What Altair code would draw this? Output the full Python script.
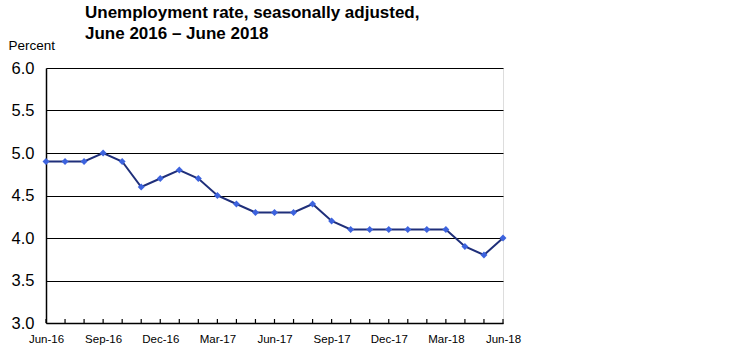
import altair as alt
import pandas as pd

months = ["Jun-16","Jul-16","Aug-16","Sep-16","Oct-16","Nov-16","Dec-16",
          "Jan-17","Feb-17","Mar-17","Apr-17","May-17","Jun-17","Jul-17",
          "Aug-17","Sep-17","Oct-17","Nov-17","Dec-17","Jan-18","Feb-18",
          "Mar-18","Apr-18","May-18","Jun-18"]
rates = [4.9, 4.9, 4.9, 5.0, 4.9, 4.6, 4.7, 4.8, 4.7, 4.5, 4.4, 4.3, 4.3,
         4.3, 4.4, 4.2, 4.1, 4.1, 4.1, 4.1, 4.1, 4.1, 3.9, 3.8, 4.0]
tick_labels = ["Jun-16","Sep-16","Dec-16","Mar-17","Jun-17","Sep-17",
               "Dec-17","Mar-18","Jun-18"]
title_lines = ["Unemployment rate, seasonally adjusted,", "June 2016 \u2013 June 2018"]

df = pd.DataFrame({"idx": list(range(len(months))), "month": months, "rate": rates})
lab_expr = "[" + ",".join('"%s"' % t for t in tick_labels) + "][datum.value/3]"

W, H = 457, 255
x = alt.X("idx:Q", scale=alt.Scale(domain=[0, 24], nice=False, zero=False),
          axis=alt.Axis(values=list(range(0, 25, 3)), labelExpr=lab_expr,
                        title=None, ticks=False, grid=False, domain=True,
                        domainColor="black", domainWidth=1.5,
                        labelFlush=False, labelOverlap=False,
                        labelFont="Liberation Sans", labelFontSize=11.5,
                        labelColor="black", labelPadding=10))
y = alt.Y("rate:Q", scale=alt.Scale(domain=[3.0, 6.0], nice=False, zero=False),
          axis=alt.Axis(values=[3.0,3.5,4.0,4.5,5.0,5.5,6.0], format=".1f",
                        title="Percent", titleAngle=0, titleAlign="left",
                        titleX=-38, titleY=-19, titleFont="Liberation Sans",
                        titleFontSize=13.5, titleFontWeight="normal",
                        titleColor="black", titleBaseline="alphabetic",
                        ticks=False, grid=True, gridColor="black",
                        gridWidth=1.2, gridOpacity=1, domain=True,
                        domainColor="black", domainWidth=1.5,
                        labelFlush=False,
                        labelFont="Liberation Sans", labelFontSize=16.5,
                        labelColor="black", labelPadding=12))

base = alt.Chart(df)
ticks = base.mark_rule(color="black", strokeWidth=1.2).encode(
    x=alt.X("idx:Q"), y=alt.value(H), y2=alt.value(H - 4))
line = base.mark_line(color="#1f2f7a", strokeWidth=2).encode(x=x, y=y)
pts = base.mark_point(shape="diamond", filled=True, color="#3d63de",
                      size=48, opacity=1).encode(x="idx:Q", y="rate:Q")

t1 = alt.Chart(pd.DataFrame({"t": [title_lines[0]]})).mark_text(
    align="left", baseline="alphabetic", font="Liberation Sans",
    fontSize=17, fontWeight="bold", color="black").encode(
    text="t:N", x=alt.value(39), y=alt.value(-50))
t2 = alt.Chart(pd.DataFrame({"t": [title_lines[1]]})).mark_text(
    align="left", baseline="alphabetic", font="Liberation Sans",
    fontSize=17, fontWeight="bold", color="black").encode(
    text="t:N", x=alt.value(39), y=alt.value(-29))

chart = alt.layer(line, ticks, pts, t1, t2).properties(
    width=W, height=H,
    autosize=alt.AutoSizeParams(type="none"),
    padding={"left": 46, "top": 68, "right": 247, "bottom": 30},
).configure_view(stroke="black", strokeWidth=1.5).configure(background="white")

chart.save("out.html", embed_options={"renderer": "svg", "actions": False})
